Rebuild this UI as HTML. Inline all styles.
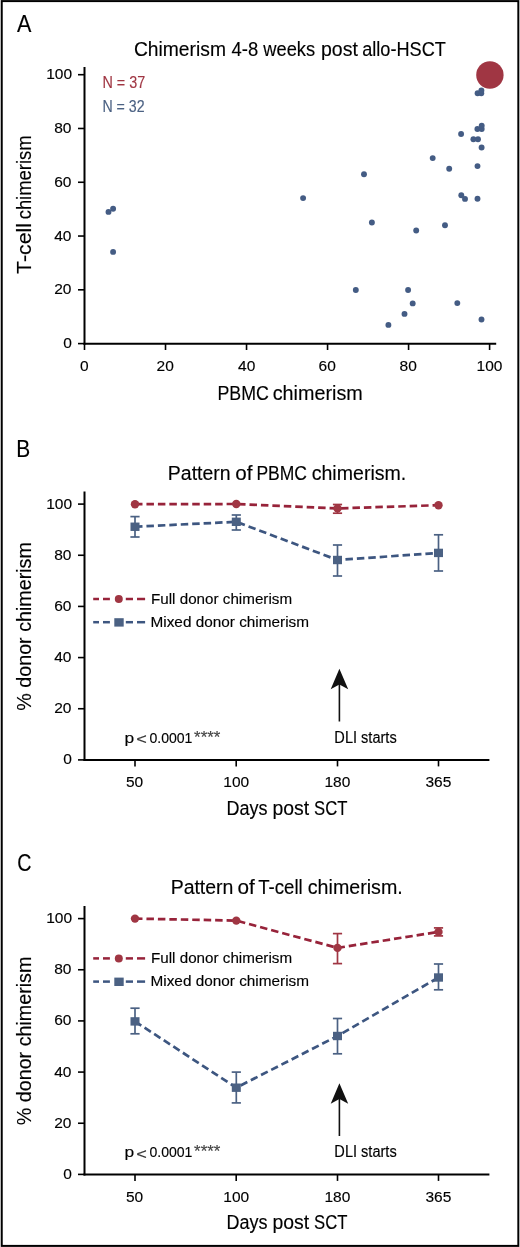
<!DOCTYPE html>
<html><head><meta charset="utf-8"><style>html,body{margin:0;padding:0;background:#fff;}svg{display:block;will-change:transform;}text{font-family:"Liberation Sans",sans-serif;stroke:currentColor;stroke-width:0.15px;}</style></head>
<body><svg width="520" height="1247" viewBox="0 0 520 1247"><rect x="1.73" y="1.1" width="516.6" height="1244.8" fill="none" stroke="#000" stroke-width="2"/><line x1="84.50" y1="67.00" x2="84.50" y2="344.80" stroke="#000" stroke-width="2"/><line x1="83.50" y1="343.80" x2="496.20" y2="343.80" stroke="#000" stroke-width="2"/><line x1="78.00" y1="74.70" x2="84.50" y2="74.70" stroke="#000" stroke-width="1.6"/><line x1="78.00" y1="128.48" x2="84.50" y2="128.48" stroke="#000" stroke-width="1.6"/><line x1="78.00" y1="182.26" x2="84.50" y2="182.26" stroke="#000" stroke-width="1.6"/><line x1="78.00" y1="236.04" x2="84.50" y2="236.04" stroke="#000" stroke-width="1.6"/><line x1="78.00" y1="289.82" x2="84.50" y2="289.82" stroke="#000" stroke-width="1.6"/><line x1="78.00" y1="343.60" x2="84.50" y2="343.60" stroke="#000" stroke-width="1.6"/><line x1="84.50" y1="343.80" x2="84.50" y2="350.00" stroke="#000" stroke-width="1.6"/><line x1="165.52" y1="343.80" x2="165.52" y2="350.00" stroke="#000" stroke-width="1.6"/><line x1="246.54" y1="343.80" x2="246.54" y2="350.00" stroke="#000" stroke-width="1.6"/><line x1="327.56" y1="343.80" x2="327.56" y2="350.00" stroke="#000" stroke-width="1.6"/><line x1="408.58" y1="343.80" x2="408.58" y2="350.00" stroke="#000" stroke-width="1.6"/><line x1="489.60" y1="343.80" x2="489.60" y2="350.00" stroke="#000" stroke-width="1.6"/><circle cx="477.6" cy="93.3" r="2.95" fill="#445c84"/><circle cx="481.3" cy="93.3" r="2.95" fill="#445c84"/><circle cx="481.4" cy="90.4" r="2.95" fill="#445c84"/><circle cx="477.4" cy="129.0" r="2.95" fill="#445c84"/><circle cx="481.7" cy="129.0" r="2.95" fill="#445c84"/><circle cx="481.7" cy="125.8" r="2.95" fill="#445c84"/><circle cx="461.1" cy="134.0" r="2.95" fill="#445c84"/><circle cx="473.4" cy="139.3" r="2.95" fill="#445c84"/><circle cx="478.0" cy="139.3" r="2.95" fill="#445c84"/><circle cx="481.6" cy="147.5" r="2.95" fill="#445c84"/><circle cx="432.7" cy="158.1" r="2.95" fill="#445c84"/><circle cx="449.2" cy="168.8" r="2.95" fill="#445c84"/><circle cx="477.5" cy="166.1" r="2.95" fill="#445c84"/><circle cx="364.0" cy="174.2" r="2.95" fill="#445c84"/><circle cx="303.1" cy="198.1" r="2.95" fill="#445c84"/><circle cx="461.3" cy="195.3" r="2.95" fill="#445c84"/><circle cx="465.0" cy="198.9" r="2.95" fill="#445c84"/><circle cx="477.5" cy="198.8" r="2.95" fill="#445c84"/><circle cx="371.9" cy="222.5" r="2.95" fill="#445c84"/><circle cx="416.2" cy="230.5" r="2.95" fill="#445c84"/><circle cx="445.0" cy="225.3" r="2.95" fill="#445c84"/><circle cx="355.8" cy="290.0" r="2.95" fill="#445c84"/><circle cx="408.1" cy="290.0" r="2.95" fill="#445c84"/><circle cx="412.7" cy="303.4" r="2.95" fill="#445c84"/><circle cx="457.3" cy="303.1" r="2.95" fill="#445c84"/><circle cx="404.5" cy="313.9" r="2.95" fill="#445c84"/><circle cx="388.4" cy="324.9" r="2.95" fill="#445c84"/><circle cx="481.5" cy="319.5" r="2.95" fill="#445c84"/><circle cx="108.5" cy="211.9" r="2.95" fill="#445c84"/><circle cx="113.1" cy="208.8" r="2.95" fill="#445c84"/><circle cx="113.1" cy="251.9" r="2.95" fill="#445c84"/><circle cx="489.9" cy="75.0" r="13.7" fill="#a03643"/><line x1="84.50" y1="491.40" x2="84.50" y2="760.90" stroke="#000" stroke-width="2"/><line x1="83.50" y1="759.90" x2="489.40" y2="759.90" stroke="#000" stroke-width="2"/><line x1="78.00" y1="504.10" x2="84.50" y2="504.10" stroke="#000" stroke-width="1.6"/><line x1="78.00" y1="555.26" x2="84.50" y2="555.26" stroke="#000" stroke-width="1.6"/><line x1="78.00" y1="606.42" x2="84.50" y2="606.42" stroke="#000" stroke-width="1.6"/><line x1="78.00" y1="657.58" x2="84.50" y2="657.58" stroke="#000" stroke-width="1.6"/><line x1="78.00" y1="708.74" x2="84.50" y2="708.74" stroke="#000" stroke-width="1.6"/><line x1="78.00" y1="759.90" x2="84.50" y2="759.90" stroke="#000" stroke-width="1.6"/><line x1="135.00" y1="759.90" x2="135.00" y2="766.40" stroke="#000" stroke-width="1.6"/><line x1="236.20" y1="759.90" x2="236.20" y2="766.40" stroke="#000" stroke-width="1.6"/><line x1="337.50" y1="759.90" x2="337.50" y2="766.40" stroke="#000" stroke-width="1.6"/><line x1="438.50" y1="759.90" x2="438.50" y2="766.40" stroke="#000" stroke-width="1.6"/><path d="M135.00,526.75 L236.30,521.80 L337.50,560.00 L438.50,552.90" fill="none" stroke="#3d5680" stroke-width="2.7" stroke-dasharray="7.5 3.95"/><line x1="135.00" y1="516.60" x2="135.00" y2="537.00" stroke="#4b6183" stroke-width="1.7"/><line x1="130.40" y1="516.60" x2="139.60" y2="516.60" stroke="#4b6183" stroke-width="1.7"/><line x1="130.40" y1="537.00" x2="139.60" y2="537.00" stroke="#4b6183" stroke-width="1.7"/><rect x="130.50" y="522.55" width="9.0" height="8.4" fill="#4b6183"/><line x1="236.30" y1="515.00" x2="236.30" y2="530.00" stroke="#4b6183" stroke-width="1.7"/><line x1="231.70" y1="515.00" x2="240.90" y2="515.00" stroke="#4b6183" stroke-width="1.7"/><line x1="231.70" y1="530.00" x2="240.90" y2="530.00" stroke="#4b6183" stroke-width="1.7"/><rect x="231.80" y="517.60" width="9.0" height="8.4" fill="#4b6183"/><line x1="337.50" y1="545.00" x2="337.50" y2="576.00" stroke="#4b6183" stroke-width="1.7"/><line x1="332.90" y1="545.00" x2="342.10" y2="545.00" stroke="#4b6183" stroke-width="1.7"/><line x1="332.90" y1="576.00" x2="342.10" y2="576.00" stroke="#4b6183" stroke-width="1.7"/><rect x="333.00" y="555.80" width="9.0" height="8.4" fill="#4b6183"/><line x1="438.50" y1="534.80" x2="438.50" y2="571.00" stroke="#4b6183" stroke-width="1.7"/><line x1="433.90" y1="534.80" x2="443.10" y2="534.80" stroke="#4b6183" stroke-width="1.7"/><line x1="433.90" y1="571.00" x2="443.10" y2="571.00" stroke="#4b6183" stroke-width="1.7"/><rect x="434.00" y="548.70" width="9.0" height="8.4" fill="#4b6183"/><path d="M135.00,504.20 L236.30,504.00 L337.50,508.40 L438.50,505.20" fill="none" stroke="#97233a" stroke-width="2.7" stroke-dasharray="7.5 3.95"/><circle cx="135.00" cy="504.20" r="4.2" fill="#a03643"/><circle cx="236.30" cy="504.00" r="4.2" fill="#a03643"/><line x1="337.50" y1="504.50" x2="337.50" y2="513.20" stroke="#a03643" stroke-width="1.7"/><line x1="332.90" y1="504.50" x2="342.10" y2="504.50" stroke="#a03643" stroke-width="1.7"/><line x1="332.90" y1="513.20" x2="342.10" y2="513.20" stroke="#a03643" stroke-width="1.7"/><circle cx="337.50" cy="508.40" r="4.2" fill="#a03643"/><circle cx="438.50" cy="505.20" r="4.2" fill="#a03643"/><line x1="93.20" y1="599.00" x2="99.00" y2="599.00" stroke="#97233a" stroke-width="2.5"/><line x1="103.00" y1="599.00" x2="109.90" y2="599.00" stroke="#97233a" stroke-width="2.5"/><line x1="125.80" y1="599.00" x2="133.00" y2="599.00" stroke="#97233a" stroke-width="2.5"/><line x1="137.00" y1="599.00" x2="145.10" y2="599.00" stroke="#97233a" stroke-width="2.5"/><circle cx="118.8" cy="599.00" r="4.0" fill="#a03643"/><line x1="93.20" y1="622.20" x2="99.00" y2="622.20" stroke="#3d5680" stroke-width="2.5"/><line x1="103.00" y1="622.20" x2="109.90" y2="622.20" stroke="#3d5680" stroke-width="2.5"/><line x1="125.80" y1="622.20" x2="133.00" y2="622.20" stroke="#3d5680" stroke-width="2.5"/><line x1="137.00" y1="622.20" x2="145.10" y2="622.20" stroke="#3d5680" stroke-width="2.5"/><rect x="114.3" y="618.20" width="9.4" height="8.4" fill="#4b6183"/><line x1="339.40" y1="680.70" x2="339.40" y2="721.50" stroke="#111" stroke-width="1.6"/><path d="M339.4,668.70 L348.2,689.20 L339.4,684.50 L330.7,689.20 Z" fill="#111"/><line x1="84.50" y1="905.90" x2="84.50" y2="1175.40" stroke="#000" stroke-width="2"/><line x1="83.50" y1="1174.40" x2="489.40" y2="1174.40" stroke="#000" stroke-width="2"/><line x1="78.00" y1="918.60" x2="84.50" y2="918.60" stroke="#000" stroke-width="1.6"/><line x1="78.00" y1="969.76" x2="84.50" y2="969.76" stroke="#000" stroke-width="1.6"/><line x1="78.00" y1="1020.92" x2="84.50" y2="1020.92" stroke="#000" stroke-width="1.6"/><line x1="78.00" y1="1072.08" x2="84.50" y2="1072.08" stroke="#000" stroke-width="1.6"/><line x1="78.00" y1="1123.24" x2="84.50" y2="1123.24" stroke="#000" stroke-width="1.6"/><line x1="78.00" y1="1174.40" x2="84.50" y2="1174.40" stroke="#000" stroke-width="1.6"/><line x1="135.00" y1="1174.40" x2="135.00" y2="1180.90" stroke="#000" stroke-width="1.6"/><line x1="236.20" y1="1174.40" x2="236.20" y2="1180.90" stroke="#000" stroke-width="1.6"/><line x1="337.50" y1="1174.40" x2="337.50" y2="1180.90" stroke="#000" stroke-width="1.6"/><line x1="438.50" y1="1174.40" x2="438.50" y2="1180.90" stroke="#000" stroke-width="1.6"/><path d="M135.00,1021.40 L236.30,1087.70 L337.50,1036.00 L438.50,977.50" fill="none" stroke="#3d5680" stroke-width="2.7" stroke-dasharray="7.5 3.95"/><line x1="135.00" y1="1008.20" x2="135.00" y2="1033.80" stroke="#4b6183" stroke-width="1.7"/><line x1="130.40" y1="1008.20" x2="139.60" y2="1008.20" stroke="#4b6183" stroke-width="1.7"/><line x1="130.40" y1="1033.80" x2="139.60" y2="1033.80" stroke="#4b6183" stroke-width="1.7"/><rect x="130.50" y="1017.20" width="9.0" height="8.4" fill="#4b6183"/><line x1="236.30" y1="1072.10" x2="236.30" y2="1102.90" stroke="#4b6183" stroke-width="1.7"/><line x1="231.70" y1="1072.10" x2="240.90" y2="1072.10" stroke="#4b6183" stroke-width="1.7"/><line x1="231.70" y1="1102.90" x2="240.90" y2="1102.90" stroke="#4b6183" stroke-width="1.7"/><rect x="231.80" y="1083.50" width="9.0" height="8.4" fill="#4b6183"/><line x1="337.50" y1="1018.50" x2="337.50" y2="1053.80" stroke="#4b6183" stroke-width="1.7"/><line x1="332.90" y1="1018.50" x2="342.10" y2="1018.50" stroke="#4b6183" stroke-width="1.7"/><line x1="332.90" y1="1053.80" x2="342.10" y2="1053.80" stroke="#4b6183" stroke-width="1.7"/><rect x="333.00" y="1031.80" width="9.0" height="8.4" fill="#4b6183"/><line x1="438.50" y1="964.00" x2="438.50" y2="989.80" stroke="#4b6183" stroke-width="1.7"/><line x1="433.90" y1="964.00" x2="443.10" y2="964.00" stroke="#4b6183" stroke-width="1.7"/><line x1="433.90" y1="989.80" x2="443.10" y2="989.80" stroke="#4b6183" stroke-width="1.7"/><rect x="434.00" y="973.30" width="9.0" height="8.4" fill="#4b6183"/><path d="M135.00,918.60 L236.30,920.60 L337.50,947.90 L438.50,931.90" fill="none" stroke="#97233a" stroke-width="2.7" stroke-dasharray="7.5 3.95"/><circle cx="135.00" cy="918.60" r="4.2" fill="#a03643"/><circle cx="236.30" cy="920.60" r="4.2" fill="#a03643"/><line x1="337.50" y1="933.60" x2="337.50" y2="963.60" stroke="#a03643" stroke-width="1.7"/><line x1="332.90" y1="933.60" x2="342.10" y2="933.60" stroke="#a03643" stroke-width="1.7"/><line x1="332.90" y1="963.60" x2="342.10" y2="963.60" stroke="#a03643" stroke-width="1.7"/><circle cx="337.50" cy="947.90" r="4.2" fill="#a03643"/><line x1="438.50" y1="927.90" x2="438.50" y2="935.90" stroke="#a03643" stroke-width="1.7"/><line x1="433.90" y1="927.90" x2="443.10" y2="927.90" stroke="#a03643" stroke-width="1.7"/><line x1="433.90" y1="935.90" x2="443.10" y2="935.90" stroke="#a03643" stroke-width="1.7"/><circle cx="438.50" cy="931.90" r="4.2" fill="#a03643"/><line x1="93.20" y1="958.40" x2="99.00" y2="958.40" stroke="#97233a" stroke-width="2.5"/><line x1="103.00" y1="958.40" x2="109.90" y2="958.40" stroke="#97233a" stroke-width="2.5"/><line x1="125.80" y1="958.40" x2="133.00" y2="958.40" stroke="#97233a" stroke-width="2.5"/><line x1="137.00" y1="958.40" x2="145.10" y2="958.40" stroke="#97233a" stroke-width="2.5"/><circle cx="118.8" cy="958.40" r="4.0" fill="#a03643"/><line x1="93.20" y1="981.60" x2="99.00" y2="981.60" stroke="#3d5680" stroke-width="2.5"/><line x1="103.00" y1="981.60" x2="109.90" y2="981.60" stroke="#3d5680" stroke-width="2.5"/><line x1="125.80" y1="981.60" x2="133.00" y2="981.60" stroke="#3d5680" stroke-width="2.5"/><line x1="137.00" y1="981.60" x2="145.10" y2="981.60" stroke="#3d5680" stroke-width="2.5"/><rect x="114.3" y="977.60" width="9.4" height="8.4" fill="#4b6183"/><line x1="339.40" y1="1095.20" x2="339.40" y2="1136.00" stroke="#111" stroke-width="1.6"/><path d="M339.4,1083.20 L348.2,1103.70 L339.4,1099.00 L330.7,1103.70 Z" fill="#111"/><text x="17.10" y="32.30" font-family="Liberation Sans" font-size="24.5" fill="#000" color="#000" textLength="14.40" lengthAdjust="spacingAndGlyphs">A</text><text x="16.19" y="456.90" font-family="Liberation Sans" font-size="24.5" fill="#000" color="#000" textLength="13.96" lengthAdjust="spacingAndGlyphs">B</text><text x="17.30" y="871.30" font-family="Liberation Sans" font-size="24.5" fill="#000" color="#000" textLength="14.16" lengthAdjust="spacingAndGlyphs">C</text><text x="133.94" y="55.75" font-family="Liberation Sans" font-size="20" fill="#000" color="#000" textLength="92.00" lengthAdjust="spacingAndGlyphs">Chimerism</text><text x="231.50" y="55.75" font-family="Liberation Sans" font-size="20" fill="#000" color="#000" textLength="26.64" lengthAdjust="spacingAndGlyphs">4-8</text><text x="263.30" y="55.75" font-family="Liberation Sans" font-size="20" fill="#000" color="#000" textLength="51.84" lengthAdjust="spacingAndGlyphs">weeks</text><text x="321.02" y="55.75" font-family="Liberation Sans" font-size="20" fill="#000" color="#000" textLength="36.89" lengthAdjust="spacingAndGlyphs">post</text><text x="362.19" y="55.75" font-family="Liberation Sans" font-size="20" fill="#000" color="#000" textLength="83.63" lengthAdjust="spacingAndGlyphs">allo-HSCT</text><text x="102.40" y="88.30" font-family="Liberation Sans" font-size="16" fill="#a03643" color="#a03643" textLength="42.73" lengthAdjust="spacingAndGlyphs">N = 37</text><text x="102.42" y="111.70" font-family="Liberation Sans" font-size="16" fill="#4b6183" color="#4b6183" textLength="42.11" lengthAdjust="spacingAndGlyphs">N = 32</text><text x="217.42" y="399.60" font-family="Liberation Sans" font-size="20" fill="#000" color="#000" textLength="51.39" lengthAdjust="spacingAndGlyphs">PBMC</text><text x="272.71" y="399.60" font-family="Liberation Sans" font-size="20" fill="#000" color="#000" textLength="90.10" lengthAdjust="spacingAndGlyphs">chimerism</text><text x="30.80" y="273.90" transform="rotate(-90 30.80 273.90)" font-family="Liberation Sans" font-size="20" fill="#000" color="#000" textLength="50.85" lengthAdjust="spacingAndGlyphs">T-cell</text><text x="30.80" y="219.32" transform="rotate(-90 30.80 219.32)" font-family="Liberation Sans" font-size="20" fill="#000" color="#000" textLength="83.86" lengthAdjust="spacingAndGlyphs">chimerism</text><text x="46.20" y="79.20" font-family="Liberation Sans" font-size="15.5" fill="#000" color="#000">100</text><text x="54.20" y="132.98" font-family="Liberation Sans" font-size="15.5" fill="#000" color="#000">80</text><text x="54.20" y="186.76" font-family="Liberation Sans" font-size="15.5" fill="#000" color="#000">60</text><text x="54.20" y="240.54" font-family="Liberation Sans" font-size="15.5" fill="#000" color="#000">40</text><text x="54.20" y="294.32" font-family="Liberation Sans" font-size="15.5" fill="#000" color="#000">20</text><text x="63.20" y="348.10" font-family="Liberation Sans" font-size="15.5" fill="#000" color="#000">0</text><text x="80.00" y="370.90" font-family="Liberation Sans" font-size="15.5" fill="#000" color="#000">0</text><text x="156.52" y="370.90" font-family="Liberation Sans" font-size="15.5" fill="#000" color="#000">20</text><text x="238.04" y="370.90" font-family="Liberation Sans" font-size="15.5" fill="#000" color="#000">40</text><text x="318.56" y="370.90" font-family="Liberation Sans" font-size="15.5" fill="#000" color="#000">60</text><text x="399.58" y="370.90" font-family="Liberation Sans" font-size="15.5" fill="#000" color="#000">80</text><text x="476.60" y="370.90" font-family="Liberation Sans" font-size="15.5" fill="#000" color="#000">100</text><text x="167.85" y="479.90" font-family="Liberation Sans" font-size="20" fill="#000" color="#000" textLength="62.79" lengthAdjust="spacingAndGlyphs">Pattern</text><text x="235.27" y="479.90" font-family="Liberation Sans" font-size="20" fill="#000" color="#000" textLength="17.21" lengthAdjust="spacingAndGlyphs">of</text><text x="256.45" y="479.90" font-family="Liberation Sans" font-size="20" fill="#000" color="#000" textLength="50.55" lengthAdjust="spacingAndGlyphs">PBMC</text><text x="311.72" y="479.90" font-family="Liberation Sans" font-size="20" fill="#000" color="#000" textLength="94.51" lengthAdjust="spacingAndGlyphs">chimerism.</text><text x="30.90" y="710.68" transform="rotate(-90 30.90 710.68)" font-family="Liberation Sans" font-size="20" fill="#000" color="#000" textLength="168.54" lengthAdjust="spacingAndGlyphs">% donor chimerism</text><text x="46.20" y="508.60" font-family="Liberation Sans" font-size="15.5" fill="#000" color="#000">100</text><text x="54.20" y="559.76" font-family="Liberation Sans" font-size="15.5" fill="#000" color="#000">80</text><text x="54.20" y="610.92" font-family="Liberation Sans" font-size="15.5" fill="#000" color="#000">60</text><text x="54.20" y="662.08" font-family="Liberation Sans" font-size="15.5" fill="#000" color="#000">40</text><text x="54.20" y="713.24" font-family="Liberation Sans" font-size="15.5" fill="#000" color="#000">20</text><text x="63.20" y="764.40" font-family="Liberation Sans" font-size="15.5" fill="#000" color="#000">0</text><text x="126.00" y="787.00" font-family="Liberation Sans" font-size="15.5" fill="#000" color="#000">50</text><text x="223.30" y="787.00" font-family="Liberation Sans" font-size="15.5" fill="#000" color="#000">100</text><text x="324.50" y="787.00" font-family="Liberation Sans" font-size="15.5" fill="#000" color="#000">180</text><text x="425.50" y="787.00" font-family="Liberation Sans" font-size="15.5" fill="#000" color="#000">365</text><text x="226.40" y="814.50" font-family="Liberation Sans" font-size="20" fill="#000" color="#000" textLength="41.02" lengthAdjust="spacingAndGlyphs">Days</text><text x="272.53" y="814.50" font-family="Liberation Sans" font-size="20" fill="#000" color="#000" textLength="36.69" lengthAdjust="spacingAndGlyphs">post</text><text x="314.07" y="814.50" font-family="Liberation Sans" font-size="20" fill="#000" color="#000" textLength="33.33" lengthAdjust="spacingAndGlyphs">SCT</text><text x="151.01" y="603.60" font-family="Liberation Sans" font-size="15.3" fill="#000" color="#000" textLength="141.06" lengthAdjust="spacingAndGlyphs">Full donor chimerism</text><text x="150.50" y="626.70" font-family="Liberation Sans" font-size="15.3" fill="#000" color="#000" textLength="158.53" lengthAdjust="spacingAndGlyphs">Mixed donor chimerism</text><text x="124.63" y="742.90" font-family="Liberation Sans" font-size="14.8" fill="#000" color="#000" textLength="9.65" lengthAdjust="spacingAndGlyphs">p</text><text x="136.23" y="744.00" font-family="Liberation Sans" font-size="15.5" fill="#333" color="#333" textLength="10.62" lengthAdjust="spacingAndGlyphs">&lt;</text><text x="149.45" y="742.90" font-family="Liberation Sans" font-size="14.8" fill="#000" color="#000" textLength="43.00" lengthAdjust="spacingAndGlyphs">0.0001</text><text x="194.10" y="742.80" font-family="Liberation Sans" font-size="16.5" fill="#444" color="#444" textLength="26.30" lengthAdjust="spacingAndGlyphs">****</text><text x="334.37" y="742.80" font-family="Liberation Sans" font-size="15.6" fill="#000" color="#000" textLength="62.32" lengthAdjust="spacingAndGlyphs">DLI starts</text><text x="170.65" y="894.40" font-family="Liberation Sans" font-size="20" fill="#000" color="#000" textLength="62.79" lengthAdjust="spacingAndGlyphs">Pattern</text><text x="237.46" y="894.40" font-family="Liberation Sans" font-size="20" fill="#000" color="#000" textLength="17.31" lengthAdjust="spacingAndGlyphs">of</text><text x="258.20" y="894.40" font-family="Liberation Sans" font-size="20" fill="#000" color="#000" textLength="44.54" lengthAdjust="spacingAndGlyphs">T-cell</text><text x="307.77" y="894.40" font-family="Liberation Sans" font-size="20" fill="#000" color="#000" textLength="94.97" lengthAdjust="spacingAndGlyphs">chimerism.</text><text x="30.90" y="1125.18" transform="rotate(-90 30.90 1125.18)" font-family="Liberation Sans" font-size="20" fill="#000" color="#000" textLength="168.54" lengthAdjust="spacingAndGlyphs">% donor chimerism</text><text x="46.20" y="923.10" font-family="Liberation Sans" font-size="15.5" fill="#000" color="#000">100</text><text x="54.20" y="974.26" font-family="Liberation Sans" font-size="15.5" fill="#000" color="#000">80</text><text x="54.20" y="1025.42" font-family="Liberation Sans" font-size="15.5" fill="#000" color="#000">60</text><text x="54.20" y="1076.58" font-family="Liberation Sans" font-size="15.5" fill="#000" color="#000">40</text><text x="54.20" y="1127.74" font-family="Liberation Sans" font-size="15.5" fill="#000" color="#000">20</text><text x="63.20" y="1178.90" font-family="Liberation Sans" font-size="15.5" fill="#000" color="#000">0</text><text x="126.00" y="1201.50" font-family="Liberation Sans" font-size="15.5" fill="#000" color="#000">50</text><text x="223.30" y="1201.50" font-family="Liberation Sans" font-size="15.5" fill="#000" color="#000">100</text><text x="324.50" y="1201.50" font-family="Liberation Sans" font-size="15.5" fill="#000" color="#000">180</text><text x="425.50" y="1201.50" font-family="Liberation Sans" font-size="15.5" fill="#000" color="#000">365</text><text x="226.40" y="1229.00" font-family="Liberation Sans" font-size="20" fill="#000" color="#000" textLength="41.02" lengthAdjust="spacingAndGlyphs">Days</text><text x="272.53" y="1229.00" font-family="Liberation Sans" font-size="20" fill="#000" color="#000" textLength="36.69" lengthAdjust="spacingAndGlyphs">post</text><text x="314.07" y="1229.00" font-family="Liberation Sans" font-size="20" fill="#000" color="#000" textLength="33.33" lengthAdjust="spacingAndGlyphs">SCT</text><text x="151.01" y="963.00" font-family="Liberation Sans" font-size="15.3" fill="#000" color="#000" textLength="141.06" lengthAdjust="spacingAndGlyphs">Full donor chimerism</text><text x="150.50" y="986.10" font-family="Liberation Sans" font-size="15.3" fill="#000" color="#000" textLength="158.53" lengthAdjust="spacingAndGlyphs">Mixed donor chimerism</text><text x="124.63" y="1157.40" font-family="Liberation Sans" font-size="14.8" fill="#000" color="#000" textLength="9.65" lengthAdjust="spacingAndGlyphs">p</text><text x="136.23" y="1158.50" font-family="Liberation Sans" font-size="15.5" fill="#333" color="#333" textLength="10.62" lengthAdjust="spacingAndGlyphs">&lt;</text><text x="149.45" y="1157.40" font-family="Liberation Sans" font-size="14.8" fill="#000" color="#000" textLength="43.00" lengthAdjust="spacingAndGlyphs">0.0001</text><text x="194.10" y="1157.30" font-family="Liberation Sans" font-size="16.5" fill="#444" color="#444" textLength="26.30" lengthAdjust="spacingAndGlyphs">****</text><text x="334.37" y="1157.30" font-family="Liberation Sans" font-size="15.6" fill="#000" color="#000" textLength="62.32" lengthAdjust="spacingAndGlyphs">DLI starts</text></svg></body></html>
